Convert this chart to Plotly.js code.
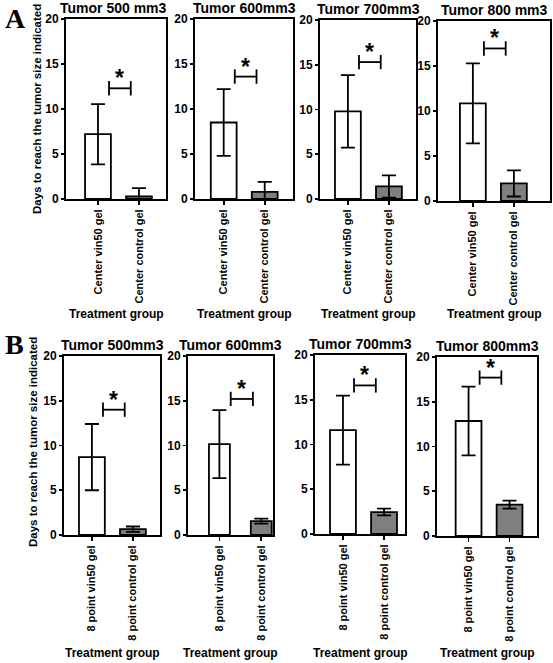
<!DOCTYPE html>
<html>
<head>
<meta charset="utf-8">
<script src="https://cdn.plot.ly/plotly-3.0.1.min.js"></script>
<style>html,body{margin:0;padding:0;background:#fff;}#chart{width:553px;height:663px;}</style>
</head>
<body>
<div id="chart"></div>
<script>
// ---------- data ----------
const groupsA = ["Center vin50 gel", "Center control gel"];
const groupsB = ["8 point vin50 gel", "8 point control gel"];
const titlesA = ["Tumor 500 mm3", "Tumor 600mm3", "Tumor 700mm3", "Tumor 800 mm3"];
const titlesB = ["Tumor 500mm3", "Tumor 600mm3", "Tumor 700mm3", "Tumor 800mm3"];

const vin50A = [7.2, 8.5, 9.8, 10.85];
const vin50A_err = [3.35, 3.7, 4.05, 4.45];
const controlA = [0.3, 0.8, 1.4, 1.95];
const controlA_err = [0.9, 1.1, 1.25, 1.45];

const vin50B = [8.7, 10.15, 11.6, 12.85];
const vin50B_err = [3.7, 3.8, 3.85, 3.85];
const controlB = [0.65, 1.55, 2.45, 3.5];
const controlB_err = [0.3, 0.27, 0.38, 0.45];

const sigA = [12.3, 13.6, 15.3, 16.95];
const sigB = [14.0, 15.2, 16.6, 17.7];

const yTicks = [0, 5, 10, 15, 20];
const yTitle = "Days to reach the tumor size indicated";
const xTitle = "Treatment group";

// ---------- layout geometry (pixels) ----------
const W = 553, H = 663;
const boxes = [
  [66, 166, 19, 199], [195, 293, 19, 199], [320, 416, 20, 199], [438, 550, 21, 201],
  [64, 160, 356, 535], [188, 273, 356, 535], [315, 405, 355, 534], [437, 537, 357, 536]
];
const xRanges = [
  [-0.78, 1.66], [-0.70, 1.69], [-0.68, 1.66], [-0.85, 1.88],
  [-0.68, 1.66], [-0.75, 1.28], [-0.68, 1.51], [-0.77, 1.67]
];
const barWidths = [0.63, 0.63, 0.63, 0.63, 0.63, 0.5, 0.63, 0.63];

const FONT = "Liberation Sans, Arial, sans-serif";
const bold = s => "<b>" + s + "</b>";
const traces = [];
const layout = {
  width: W, height: H,
  margin: {l: 0, r: 0, t: 0, b: 0},
  paper_bgcolor: "#fff", plot_bgcolor: "#fff",
  showlegend: false,
  annotations: [],
  font: {family: FONT, color: "#000"}
};

for (let i = 0; i < 8; i++) {
  const row = i < 4 ? 0 : 1;
  const j = i % 4;
  const groups = row === 0 ? groupsA : groupsB;
  const vin = row === 0 ? vin50A : vin50B;
  const vinE = row === 0 ? vin50A_err : vin50B_err;
  const ctl = row === 0 ? controlA : controlB;
  const ctlE = row === 0 ? controlA_err : controlB_err;
  const sig = row === 0 ? sigA : sigB;
  const title = row === 0 ? titlesA[j] : titlesB[j];
  const n = i + 1;
  const xa = "x" + (n === 1 ? "" : n), ya = "y" + (n === 1 ? "" : n);
  const b = boxes[i];

  traces.push({
    type: "bar", x: [0, 1], y: [vin[j], ctl[j]],
    xaxis: xa, yaxis: ya, width: barWidths[i],
    marker: {color: ["#ffffff", "#7f7f7f"], line: {color: "#000", width: 1.8}},
    error_y: {type: "data", array: [vinE[j], ctlE[j]], visible: true, color: "#000", thickness: 1.8, width: 7},
    hoverinfo: "skip"
  });
  const x0 = 0.27, x1 = 0.80, d = 0.8, yy = sig[j];
  traces.push({
    type: "scatter", mode: "lines",
    x: [x0, x0, null, x0, x1, null, x1, x1],
    y: [yy - d, yy + d, null, yy, yy, null, yy - d, yy + d],
    xaxis: xa, yaxis: ya, line: {color: "#000", width: 1.8}, hoverinfo: "skip", cliponaxis: false
  });

  const xKey = "xaxis" + (n === 1 ? "" : n), yKey = "yaxis" + (n === 1 ? "" : n);
  layout[xKey] = {
    domain: [b[0] / W, b[1] / W], anchor: ya, range: xRanges[i],
    tickvals: [0, 1], ticktext: groups.map(bold), tickangle: -90,
    tickfont: {family: FONT, size: 11, color: "#000"},
    ticks: "outside", ticklen: 4, tickwidth: 1.8, tickcolor: "#000",
    showline: true, mirror: true, linecolor: "#000", linewidth: 2,
    showgrid: false, zeroline: false, fixedrange: true
  };
  layout[yKey] = {
    domain: [1 - b[3] / H, 1 - b[2] / H], anchor: xa, range: [0, 20],
    tickvals: yTicks, ticktext: yTicks.map(v => bold(String(v))),
    tickfont: {family: FONT, size: 12, color: "#000"},
    ticks: "outside", ticklen: 3, tickwidth: 1.8, tickcolor: "#000",
    showline: true, mirror: true, linecolor: "#000", linewidth: 2,
    showgrid: false, zeroline: false, fixedrange: true
  };

  // significance asterisk
  layout.annotations.push({
    xref: xa, yref: ya, x: (x0 + x1) / 2, y: yy, yshift: 10,
    text: "<b>*</b>", showarrow: false, yanchor: "middle",
    font: {family: FONT, size: 23, color: "#000"}
  });
  // panel title
  layout.annotations.push({
    xref: "paper", yref: "paper", x: (b[0] + b[1]) / 2 / W + (row === 0 && j === 0 ? -0.005 : 0),
    y: 1 - (b[2] - 1) / H, yanchor: "bottom", xanchor: "center",
    text: bold(title), showarrow: false,
    font: {family: FONT, size: 14, color: "#000"}
  });
  // x axis title
  layout.annotations.push({
    xref: "paper", yref: "paper", x: (b[0] + b[1]) / 2 / W,
    y: 1 - (row === 0 ? 314 : 653) / H, yanchor: "middle", xanchor: "center",
    text: bold(xTitle), showarrow: false,
    font: {family: FONT, size: 12, color: "#000"}
  });
}

// y axis titles
layout.annotations.push({
  xref: "paper", yref: "paper", x: 37 / W, y: 1 - 109 / H, textangle: -90,
  xanchor: "center", yanchor: "middle", text: bold(yTitle), showarrow: false,
  font: {family: FONT, size: 11.5, color: "#000"}
});
layout.annotations.push({
  xref: "paper", yref: "paper", x: 33 / W, y: 1 - 442 / H, textangle: -90,
  xanchor: "center", yanchor: "middle", text: bold(yTitle), showarrow: false,
  font: {family: FONT, size: 11.5, color: "#000"}
});
// panel letters
layout.annotations.push({
  xref: "paper", yref: "paper", x: 15 / W, y: 1 - 18 / H, xanchor: "center", yanchor: "middle",
  text: bold("A"), showarrow: false, font: {family: "Liberation Serif, Times New Roman, serif", size: 28, color: "#000"}
});
layout.annotations.push({
  xref: "paper", yref: "paper", x: 14 / W, y: 1 - 344 / H, xanchor: "center", yanchor: "middle",
  text: bold("B"), showarrow: false, font: {family: "Liberation Serif, Times New Roman, serif", size: 28, color: "#000"}
});

Plotly.newPlot("chart", traces, layout, {displayModeBar: false, staticPlot: true});
</script>
</body>
</html>
